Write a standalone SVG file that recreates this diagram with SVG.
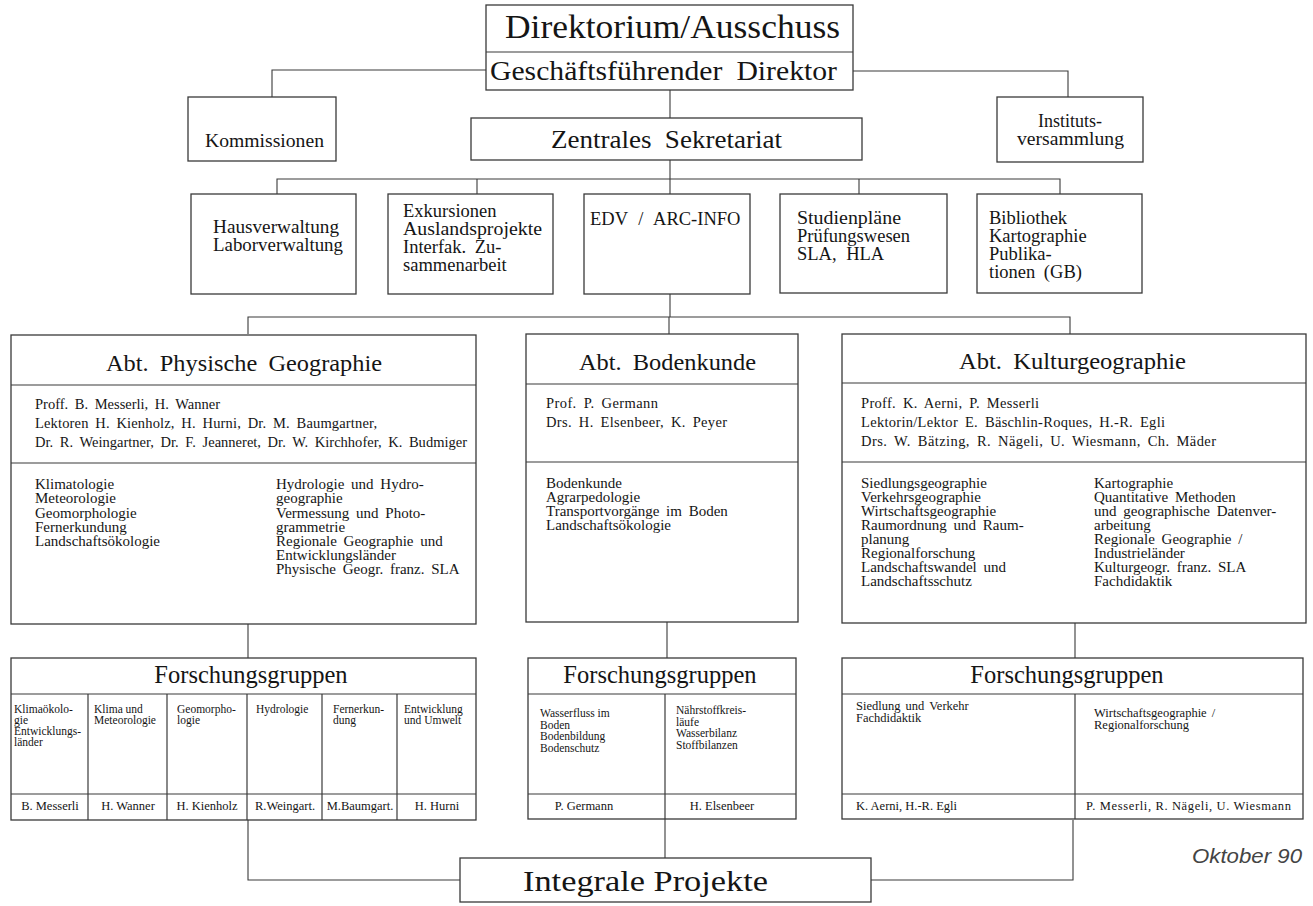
<svg xmlns="http://www.w3.org/2000/svg" width="1313" height="906" viewBox="0 0 1313 906">
<style>
rect.b{fill:#fff;stroke:#3a3a3a;stroke-width:1.3}
line.d{stroke:#3a3a3a;stroke-width:1.2}
#connectors path{fill:none;stroke:#3a3a3a;stroke-width:1.1}
text{font-family:"Liberation Serif","DejaVu Serif",serif;fill:#151515}
.m{text-anchor:middle}
.h1{font-size:33px}
.h2{font-size:27px;word-spacing:6px}
.h3{font-size:24px;word-spacing:5px}
.fg{font-size:24.5px}
.s19{font-size:18.5px}
.s18{font-size:18px}
.st{font-size:14.5px;word-spacing:3px}
.tp{font-size:15px;word-spacing:3px}
.c{font-size:11.5px}
.n{font-size:12.5px}
.okt{font-family:"Liberation Sans",sans-serif;font-style:italic;font-size:20px;fill:#444}
</style>
<rect width="1313" height="906" fill="#fff"/>
<g id="connectors">
<path d="M486 70H272V97"/>
<path d="M853 71H1068V97"/>
<path d="M670 90V118"/>
<path d="M670 160V179"/>
<path d="M277 194V179H1060V194"/>
<path d="M477 179V194"/>
<path d="M670 179V194"/>
<path d="M859 179V194"/>
<path d="M670 294V317"/>
<path d="M248 334V317H1070V334"/>
<path d="M669 317V334"/>
<path d="M248 624V658"/>
<path d="M667 622V658"/>
<path d="M1075 623V658"/>
<path d="M248 820V880H460"/>
<path d="M1073 820V880H871"/>
<path d="M665 819V858"/>
</g>
<g id="direktorium">
<rect class="b" x="486" y="5" width="367" height="85"/>
<line class="d" x1="486" y1="52" x2="853" y2="52"/>
<text class="h1" x="505" y="38" textLength="335" lengthAdjust="spacingAndGlyphs">Direktorium/Ausschuss</text>
<text class="h2" x="490" y="80" textLength="347" lengthAdjust="spacingAndGlyphs">Geschäftsführender Direktor</text>
</g>
<g id="kommissionen">
<rect class="b" x="188" y="97" width="148" height="64"/>
<text class="s18" x="205" y="147" textLength="119" lengthAdjust="spacingAndGlyphs">Kommissionen</text>
</g>
<g id="sekretariat">
<rect class="b" x="471" y="118" width="391" height="42"/>
<text class="h2" x="551" y="148" style="font-size:25px" textLength="231" lengthAdjust="spacingAndGlyphs">Zentrales Sekretariat</text>
</g>
<g id="institutsversammlung">
<rect class="b" x="997" y="97" width="146" height="65"/>
<text class="s18 m" x="1070" y="127">Instituts-</text>
<text class="s18" x="1017" y="145" textLength="107" lengthAdjust="spacingAndGlyphs">versammlung</text>
</g>
<g id="hausverwaltung">
<rect class="b" x="191" y="194" width="165" height="100"/>
<text class="s19" x="213" y="233" textLength="126" lengthAdjust="spacingAndGlyphs">Hausverwaltung</text>
<text class="s19" x="213" y="251" textLength="130" lengthAdjust="spacingAndGlyphs">Laborverwaltung</text>
</g>
<g id="exkursionen">
<rect class="b" x="388" y="194" width="165" height="100"/>
<text class="s19" x="403" y="217">Exkursionen</text>
<text class="s19" x="403" y="235" textLength="139" lengthAdjust="spacingAndGlyphs">Auslandsprojekte</text>
<text class="s19" x="403" y="253" style="word-spacing:4px">Interfak. Zu-</text>
<text class="s19" x="403" y="271">sammenarbeit</text>
</g>
<g id="edv">
<rect class="b" x="584" y="194" width="166" height="100"/>
<text class="s19" x="590" y="225" style="word-spacing:6px">EDV / ARC-INFO</text>
</g>
<g id="studienplaene">
<rect class="b" x="780" y="194" width="167" height="99"/>
<text class="s19" x="797" y="224" textLength="104" lengthAdjust="spacingAndGlyphs">Studienpläne</text>
<text class="s19" x="797" y="242">Prüfungswesen</text>
<text class="s19" x="797" y="260" style="word-spacing:5px">SLA, HLA</text>
</g>
<g id="bibliothek">
<rect class="b" x="977" y="194" width="165" height="99"/>
<text class="s19" x="989" y="224">Bibliothek</text>
<text class="s19" x="989" y="242">Kartographie</text>
<text class="s19" x="989" y="260">Publika-</text>
<text class="s19" x="989" y="278" style="word-spacing:4px">tionen (GB)</text>
</g>
<g id="abt-physische-geographie">
<rect class="b" x="11" y="335" width="465" height="289"/>
<line class="d" x1="11" y1="385" x2="476" y2="385"/>
<line class="d" x1="11" y1="463" x2="476" y2="463"/>
<text class="h3" x="106" y="371" textLength="276" lengthAdjust="spacingAndGlyphs">Abt. Physische Geographie</text>
<text class="st" x="35" y="409" textLength="185" lengthAdjust="spacing">Proff. B. Messerli, H. Wanner</text>
<text class="st" x="35" y="428" textLength="342" lengthAdjust="spacing">Lektoren H. Kienholz, H. Hurni, Dr. M. Baumgartner,</text>
<text class="st" x="35" y="447" textLength="432" lengthAdjust="spacing">Dr. R. Weingartner, Dr. F. Jeanneret, Dr. W. Kirchhofer, K. Budmiger</text>
<text class="tp" x="35" y="489">Klimatologie</text>
<text class="tp" x="35" y="503">Meteorologie</text>
<text class="tp" x="35" y="517.5">Geomorphologie</text>
<text class="tp" x="35" y="531.5">Fernerkundung</text>
<text class="tp" x="35" y="545.5">Landschaftsökologie</text>
<text class="tp" x="276" y="489">Hydrologie und Hydro-</text>
<text class="tp" x="276" y="503">geographie</text>
<text class="tp" x="276" y="517.5">Vermessung und Photo-</text>
<text class="tp" x="276" y="531.5">grammetrie</text>
<text class="tp" x="276" y="545.5">Regionale Geographie und</text>
<text class="tp" x="276" y="559.5">Entwicklungsländer</text>
<text class="tp" x="276" y="573.5">Physische Geogr. franz. SLA</text>
</g>
<g id="abt-bodenkunde">
<rect class="b" x="526" y="334" width="272" height="288"/>
<line class="d" x1="526" y1="384" x2="798" y2="384"/>
<line class="d" x1="526" y1="462" x2="798" y2="462"/>
<text class="h3" x="579" y="370" textLength="177" lengthAdjust="spacingAndGlyphs">Abt. Bodenkunde</text>
<text class="st" x="546" y="408" textLength="112" lengthAdjust="spacing">Prof. P. Germann</text>
<text class="st" x="546" y="427" textLength="181" lengthAdjust="spacing">Drs. H. Elsenbeer, K. Peyer</text>
<text class="tp" x="546" y="488">Bodenkunde</text>
<text class="tp" x="546" y="502">Agrarpedologie</text>
<text class="tp" x="546" y="516">Transportvorgänge im Boden</text>
<text class="tp" x="546" y="530">Landschaftsökologie</text>
</g>
<g id="abt-kulturgeographie">
<rect class="b" x="842" y="334" width="464" height="289"/>
<line class="d" x1="842" y1="383" x2="1306" y2="383"/>
<line class="d" x1="842" y1="462" x2="1306" y2="462"/>
<text class="h3" x="959" y="369" textLength="227" lengthAdjust="spacingAndGlyphs">Abt. Kulturgeographie</text>
<text class="st" x="861" y="408" textLength="178" lengthAdjust="spacing">Proff. K. Aerni, P. Messerli</text>
<text class="st" x="861" y="427" textLength="304" lengthAdjust="spacing">Lektorin/Lektor E. Bäschlin-Roques, H.-R. Egli</text>
<text class="st" x="861" y="446" textLength="355" lengthAdjust="spacing">Drs. W. Bätzing, R. Nägeli, U. Wiesmann, Ch. Mäder</text>
<text class="tp" x="861" y="488">Siedlungsgeographie</text>
<text class="tp" x="861" y="502">Verkehrsgeographie</text>
<text class="tp" x="861" y="516">Wirtschaftsgeographie</text>
<text class="tp" x="861" y="530">Raumordnung und Raum-</text>
<text class="tp" x="861" y="544">planung</text>
<text class="tp" x="861" y="558">Regionalforschung</text>
<text class="tp" x="861" y="572">Landschaftswandel und</text>
<text class="tp" x="861" y="586">Landschaftsschutz</text>
<text class="tp" x="1094" y="488">Kartographie</text>
<text class="tp" x="1094" y="502">Quantitative Methoden</text>
<text class="tp" x="1094" y="516">und geographische Datenver-</text>
<text class="tp" x="1094" y="530">arbeitung</text>
<text class="tp" x="1094" y="544">Regionale Geographie /</text>
<text class="tp" x="1094" y="558">Industrieländer</text>
<text class="tp" x="1094" y="572">Kulturgeogr. franz. SLA</text>
<text class="tp" x="1094" y="586">Fachdidaktik</text>
</g>
<g id="forschungsgruppen-physische">
<rect class="b" x="11" y="658" width="465" height="162"/>
<line class="d" x1="11" y1="694" x2="476" y2="694"/>
<line class="d" x1="11" y1="794" x2="476" y2="794"/>
<line class="d" x1="88" y1="694" x2="88" y2="820"/>
<line class="d" x1="167" y1="694" x2="167" y2="820"/>
<line class="d" x1="247" y1="694" x2="247" y2="820"/>
<line class="d" x1="322" y1="694" x2="322" y2="820"/>
<line class="d" x1="397" y1="694" x2="397" y2="820"/>
<text class="fg m" x="251" y="683">Forschungsgruppen</text>
<text class="c" x="14" y="713">Klimaökolo-</text>
<text class="c" x="14" y="724">gie</text>
<text class="c" x="14" y="735">Entwicklungs-</text>
<text class="c" x="14" y="746">länder</text>
<text class="c" x="94" y="713">Klima und</text>
<text class="c" x="94" y="724">Meteorologie</text>
<text class="c" x="177" y="713">Geomorpho-</text>
<text class="c" x="177" y="724">logie</text>
<text class="c" x="256" y="713">Hydrologie</text>
<text class="c" x="333" y="713">Fernerkun-</text>
<text class="c" x="333" y="724">dung</text>
<text class="c" x="404" y="713">Entwicklung</text>
<text class="c" x="404" y="724">und Umwelt</text>
<text class="n m" x="50" y="810">B. Messerli</text>
<text class="n m" x="128" y="810">H. Wanner</text>
<text class="n m" x="207" y="810">H. Kienholz</text>
<text class="n m" x="285" y="810">R.Weingart.</text>
<text class="n m" x="360" y="810">M.Baumgart.</text>
<text class="n m" x="437" y="810">H. Hurni</text>
</g>
<g id="forschungsgruppen-bodenkunde">
<rect class="b" x="528" y="658" width="268" height="161"/>
<line class="d" x1="528" y1="694" x2="796" y2="694"/>
<line class="d" x1="528" y1="794" x2="796" y2="794"/>
<line class="d" x1="665" y1="694" x2="665" y2="819"/>
<text class="fg m" x="660" y="683">Forschungsgruppen</text>
<text class="c" x="540" y="717">Wasserfluss im</text>
<text class="c" x="540" y="728.5">Boden</text>
<text class="c" x="540" y="740">Bodenbildung</text>
<text class="c" x="540" y="751.5">Bodenschutz</text>
<text class="c" x="676" y="714">Nährstoffkreis-</text>
<text class="c" x="676" y="725.5">läufe</text>
<text class="c" x="676" y="737">Wasserbilanz</text>
<text class="c" x="676" y="748.5">Stoffbilanzen</text>
<text class="n m" x="584" y="810">P. Germann</text>
<text class="n m" x="722" y="810">H. Elsenbeer</text>
</g>
<g id="forschungsgruppen-kulturgeographie">
<rect class="b" x="842" y="658" width="461" height="161"/>
<line class="d" x1="842" y1="694" x2="1303" y2="694"/>
<line class="d" x1="842" y1="794" x2="1303" y2="794"/>
<line class="d" x1="1075" y1="694" x2="1075" y2="819"/>
<text class="fg m" x="1067" y="683">Forschungsgruppen</text>
<text class="c" x="856" y="710" style="font-size:12.5px;word-spacing:2px">Siedlung und Verkehr</text>
<text class="c" x="856" y="721.5" style="font-size:12.5px">Fachdidaktik</text>
<text class="c" x="1094" y="717" style="font-size:12.5px;word-spacing:2px">Wirtschaftsgeographie /</text>
<text class="c" x="1094" y="728.5" style="font-size:12.5px">Regionalforschung</text>
<text class="n" x="856" y="810">K. Aerni, H.-R. Egli</text>
<text class="n" x="1086" y="810" textLength="205" lengthAdjust="spacing">P. Messerli, R. Nägeli, U. Wiesmann</text>
</g>
<g id="integrale-projekte">
<rect class="b" x="460" y="858" width="411" height="44"/>
<text x="523" y="891" style="font-size:29px" textLength="245" lengthAdjust="spacingAndGlyphs">Integrale Projekte</text>
</g>
<text class="okt" x="1192" y="863" textLength="110" lengthAdjust="spacingAndGlyphs">Oktober 90</text>
</svg>
